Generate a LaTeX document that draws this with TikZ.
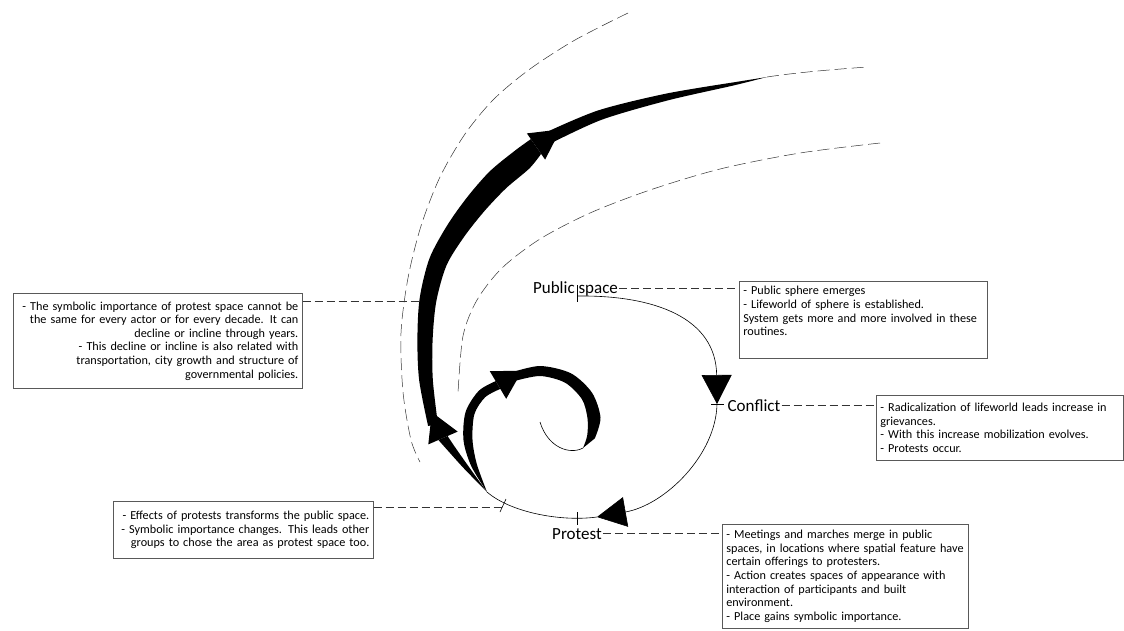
\documentclass[tikz,border=0pt]{standalone}
\usepackage{fontspec}
\setmainfont{Carlito}
\usetikzlibrary{positioning, arrows.meta, calc}

\newcommand{\notesize}{\fontsize{12.2}{13.6}\selectfont}
\newcommand{\stagesize}{\fontsize{17}{20}\selectfont}

\begin{document}
\begin{tikzpicture}[
    x=1pt, y=-1pt,
    cycleline/.style={line width=0.6pt, black},
    cycletip/.style={-{Triangle[length=29pt, width=30pt]}},
    guide/.style={line width=0.5pt, black!80, dash pattern=on 12pt off 5pt},
    leader/.style={line width=0.6pt, black!80, dash pattern=on 8pt off 4pt},
    note/.style={draw=black!65, line width=0.7pt, font=\notesize, anchor=north west, inner xsep=4pt, inner ysep=2pt},
    stage/.style={font=\stagesize, inner sep=1pt, anchor=base}
]
    \useasboundingbox (0,0) rectangle (1124,630);

    % Points on the cycle
    \coordinate (cpub) at (577,296);
    \coordinate (cconf) at (717,404);
    \coordinate (tipprot) at (597,517);
    \coordinate (cprot) at (577,519);
    \coordinate (efftick) at (503,507);
    \coordinate (join) at (487,492);
    \coordinate (symend) at (422,301);
    \coordinate (bandtip) at (767,77);
    \coordinate (spiralend) at (583,448);

    % Stage labels
    \node[stage] (pubspace) at (575.5,293) {Public space};
    \node[stage] (conflict) at (754,411) {Conflict};
    \node[stage] (protest) at (577,539) {Protest};

    % Notes
    \node[note, text width=281pt, minimum height=95pt, align=right] (boxsym) at (13,293)
        {\mbox{- The symbolic importance of protest space cannot be}\\
         \mbox{the same for every actor or for every decade. It can}\\
         \mbox{decline or incline through years.}\\
         \mbox{- This decline or incline is also related with}\\
         \mbox{transportation, city growth and structure of}\\
         \mbox{governmental policies.}};
    \node[note, text width=240pt, minimum height=77pt, align=left] (boxpub) at (739,281)
        {- Public sphere emerges\\
         - Lifeworld of sphere is established.\\
         \mbox{System gets more and more involved in these}\\
         routines.\\
         \strut};
    \node[note, text width=239pt, minimum height=65pt, align=left] (boxconf) at (876,395)
        {\mbox{- Radicalization of lifeworld leads increase in}\\
         grievances.\\
         \mbox{- With this increase mobilization evolves.}\\
         - Protests occur.};
    \node[note, text width=238pt, minimum height=104pt, align=left] (boxprot) at (722,524)
        {\mbox{- Meetings and marches merge in public}\\
         \mbox{spaces, in locations where spatial feature have}\\
         certain offerings to protesters.\\
         \mbox{- Action creates spaces of appearance with}\\
         interaction of participants and built\\
         environment.\\
         - Place gains symbolic importance.};
    \node[note, text width=252pt, minimum height=57pt, align=right] (boxeff) at (113,501)
        {\mbox{- Effects of protests transforms the public space.}\\
         \mbox{- Symbolic importance changes. This leads other}\\
         \mbox{groups to chose the area as protest space too.}};

    % Leaders
    \draw[leader] (pubspace.east) -- (pubspace.east -| boxpub.west);
    \draw[leader] (conflict.east) -- (conflict.east -| boxconf.west);
    \draw[leader] (protest.east) -- (protest.east -| boxprot.west);
    \draw[leader] (symend -| boxsym.east) -- (symend);
    \draw[leader] (efftick -| boxeff.east) -- (efftick);

    % Guides
    \draw[guide] plot[smooth] coordinates {(628,13) (575,40) (530,69) (494,99) (465,134) (440,177) (421,226) (408,278) (401,333) (403,392) (411,440) (420,462)};
    \draw[guide] plot[smooth] coordinates {(880,143) (800,153) (720,169) (650,190) (590,213) (540,239) (502,268) (477,300) (463,336) (458,393)};
    \draw[guide] (bandtip) .. controls (800,72) and (840,69) .. (867,67);

    % Cycle
    \draw[cycleline, cycletip] (cpub) .. controls (655,295) and (716,318) .. (cconf);
    \draw[cycleline, cycletip] (cconf) .. controls (716,455) and (665,505) .. (tipprot);
    \draw[cycleline] (tipprot) .. controls (560,522) and (510,512) .. (join);

    % Ticks
    \draw[cycleline] ($(cpub)+(0,-11)$) -- ($(cpub)+(0,6)$);
    \draw[cycleline] ($(cconf)+(-6,0)$) -- ($(cconf)+(7,0)$);
    \draw[cycleline] ($(cprot)+(0,-7)$) -- ($(cprot)+(0,6)$);
    \draw[cycleline] ($(efftick)+(-3,5)$) -- ($(efftick)+(3,-8)$);

    % Outer band
    \fill plot[smooth] coordinates {(join) (467.9,465.5) (453.4,444.8) (447.6,436)}
        -- plot[smooth] coordinates {(438.4,440) (446.6,449.2) (464.1,468.6) (join)} -- cycle;
    \fill (457.7,431.6) -- (431.8,412.2) -- (428.3,444.4) -- cycle;
    \fill plot[smooth] coordinates {(437.9,424) (432.8,379.5) (432.6,340) (436.3,301.3) (446.6,265.2) (464.3,236.5) (484.3,211.2) (506,188.3) (529.2,168.6) (541.1,153.9)}
        -- plot[smooth] coordinates {(530.9,139.1) (514.5,151) (489.7,171.4) (467.5,196.8) (447.3,225.2) (429.4,258.6) (419.6,298.7) (417.4,340) (419.2,380.5) (428.1,426)} -- cycle;
    \fill (545.1,159.6) -- (560.6,129.4) -- (526.9,133.4) -- cycle;
    \fill plot[smooth] coordinates {(551,143.2) (601.8,119.7) (667.8,100.4) (733.3,85.5) (bandtip)}
        -- plot[smooth] coordinates {(732.7,82.5) (666.2,93.6) (598.2,110.4) (545,132.8)} -- cycle;

    % Inner band
    \fill plot[smooth] coordinates {(join) (476.8,464) (472.5,439.8) (474.4,414.1) (485.2,397.2) (500.3,388.9)}
        -- plot[smooth] coordinates {(495.7,381.1) (478.8,390.8) (465.6,411.9) (463.5,440.2) (471.2,466) (join)} -- cycle;
    \fill (506.2,398.8) -- (522.1,370.7) -- (489.8,371.2) -- cycle;
    \fill plot[smooth] coordinates {(513.4,381.3) (540,376) (565.1,382.7) (582,399.3) (587.5,418.3) (587.2,435.6) (spiralend)}
        -- plot[smooth] coordinates {(594.8,438.4) (600.5,417.7) (592,392.7) (570.9,373.3) (540,366) (510.6,372.7)} -- cycle;
    \draw[cycleline] (spiralend) .. controls (570,455) and (548,448) .. (540,422);

\end{tikzpicture}
\end{document}
